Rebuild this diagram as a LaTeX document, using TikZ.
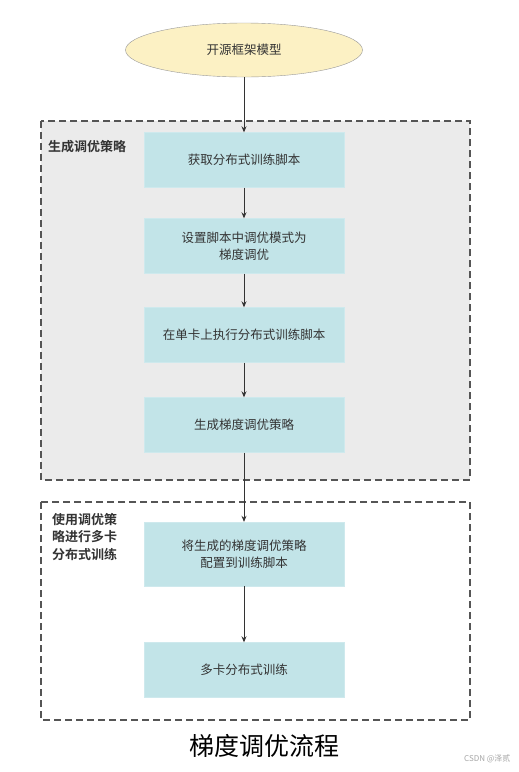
\documentclass[tikz,border=0pt]{standalone}
\usepackage{fontspec}
\setmainfont{Noto Sans CJK SC}[BoldFont={Noto Sans CJK SC Bold}]
\usetikzlibrary{shapes.geometric,arrows.meta}
\definecolor{boxfill}{HTML}{C2E4E8}
\definecolor{ellfill}{HTML}{FCF1C4}
\definecolor{grpfill}{HTML}{EBEBEB}
\definecolor{txt}{HTML}{333333}
\definecolor{dashc}{HTML}{555555}
\tikzset{
  stepbox/.style={rectangle, fill=boxfill, draw=boxfill!80!white, minimum width=200pt, minimum height=55pt, inner sep=0pt, align=center, font=\fontsize{12.5}{17}\selectfont, text=txt},
  startell/.style={ellipse, fill=ellfill, draw=gray!80, minimum width=237pt, minimum height=54pt, inner sep=0pt, font=\fontsize{12.5}{15}\selectfont, text=txt},
  grp/.style={draw=dashc, line width=1.1pt, dash pattern=on 7pt off 4pt},
  grplabel/.style={font=\bfseries\fontsize{13}{17.5}\selectfont, text=txt, align=left, anchor=north west, inner sep=0pt},
  flow/.style={draw=txt, line width=0.8pt, -{Stealth[length=6pt,width=5pt]}}
}
\begin{document}
\begin{tikzpicture}[x=1pt,y=-1pt]
\useasboundingbox[fill=white] (0,0) rectangle (519,772);
\fill[grpfill] (41,121) rectangle (470,480);
\draw[grp] (41,121) rectangle (470,480);
\draw[grp] (41,502) rectangle (470,720);
\node[grplabel] (l1) at (48,140) {生成调优策略};
\node[grplabel] (l2) at (52,513) {使用调优策\\略进行多卡\\分布式训练};
\node[startell] (s) at (244,50) {开源框架模型};
\node[stepbox] (b1) at (244,160) {获取分布式训练脚本};
\node[stepbox] (b2) at (244,246) {设置脚本中调优模式为\\梯度调优};
\node[stepbox] (b3) at (244,335) {在单卡上执行分布式训练脚本};
\node[stepbox] (b4) at (244,425) {生成梯度调优策略};
\node[stepbox, minimum height=64pt] (b5) at (244,554) {将生成的梯度调优策略\\配置到训练脚本};
\node[stepbox] (b6) at (244,670) {多卡分布式训练};
\draw[flow] (s) -- (b1);
\draw[flow] (b1) -- (b2);
\draw[flow] (b2) -- (b3);
\draw[flow] (b3) -- (b4);
\draw[flow] (b4) -- (b5);
\draw[flow] (b5) -- (b6);
\node[font=\fontsize{25}{30}\selectfont, text=black] (title) at (264,746) {梯度调优流程};
\node[font=\fontsize{8}{10}\selectfont, text=gray!70, anchor=east] (wm) at (514,759) {CSDN @泽贰};
\end{tikzpicture}
\end{document}
